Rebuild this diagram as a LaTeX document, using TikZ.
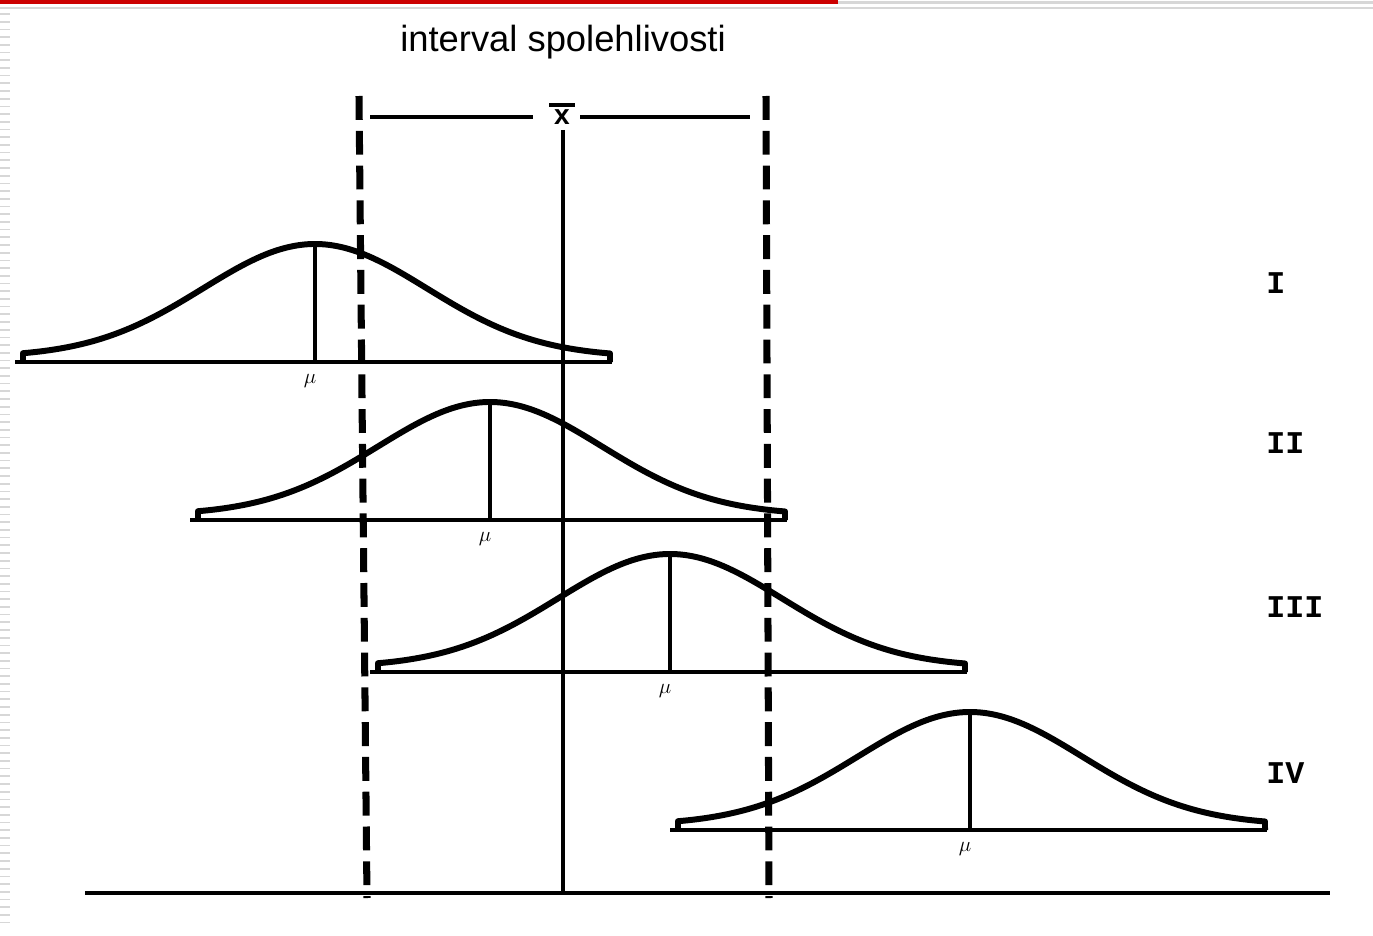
\documentclass[tikz,border=0pt]{standalone}
\usepackage{fontspec}
\setmainfont{Liberation Sans}
\newfontfamily\romfont{Liberation Mono}
\usepackage{tikz}
\usetikzlibrary{positioning,calc}
\definecolor{barred}{RGB}{204,0,0}
\definecolor{edge}{RGB}{215,215,215}
\tikzset{
  curve/.style={line width=3.4pt, line join=round},
  base/.style={line width=2.8pt},
  ci/.style={line width=4pt, dash pattern=on 13.6pt off 6.2pt},
  mu/.style={font=\fontsize{13}{13}\selectfont, inner sep=0pt},
  roman/.style={font=\fontsize{18}{18}\romfont\bfseries, anchor=west, inner sep=0pt},
  title/.style={font=\fontsize{20.7}{22}\selectfont, inner sep=0pt},
}
\begin{document}
\begin{tikzpicture}[x=0.02cm, y=-0.02cm]
  \useasboundingbox (0,0) rectangle (1373,936);
  % top bars and left edge
  \fill[barred] (0,0) rectangle (838,4.5);
  \fill[edge] (838,1) rectangle (1373,4);
  \draw[edge, line width=0.8pt] (0,8) -- (1373,8);
  \foreach \y in {14,21.7,...,930}
    \draw[edge, line width=1pt] (0,\y) -- (10,\y);

  \node[title] (head) at (563,42) {interval spolehlivosti};

  % axis, confidence interval, mean
  \coordinate (axisL) at (85,893);
  \coordinate (axisR) at (1330,893);
  \draw[base] (axisL) -- (axisR);
  \coordinate (ciLtop) at (359,96);
  \coordinate (ciLbot) at (367,898);
  \coordinate (ciRtop) at (766,96);
  \coordinate (ciRbot) at (769,898);
  \draw[ci] (ciLtop) -- (ciLbot);
  \draw[ci] (ciRtop) -- (ciRbot);
  \node[font=\fontsize{16}{16}\selectfont\bfseries, inner sep=0pt] (xbar) at (562,117) {x};
  \draw[line width=2.2pt] ($(xbar.north)+(-13,-4)$) -- ($(xbar.north)+(13,-4)$);
  \coordinate (gapL) at (533,117);
  \coordinate (gapR) at (580,117);
  \coordinate (mtop) at (563,130);
  \draw[base] (mtop) -- (mtop |- axisL);
  \draw[base] (370,117) -- (gapL);
  \draw[base] (gapR) -- (750,117);

  % four sampling distributions
  \foreach \px/\by/\nm/\ry in {315/362/I/283, 490/520/II/443, 670/672/III/607, 970/830/IV/773}{
    \draw[base] (\px-300,\by) -- (\px+297,\by);
    \draw[curve] (\px-292,\by) -- plot[domain=-292:295, samples=70, smooth]
      ({\px+\x}, {\by-5-113*exp(-0.5*(\x/112)^2)}) -- (\px+295,\by);
    \draw[base] (\px,\by) -- (\px,\by-117);
    \node[mu] (mu-\nm) at (\px-5,\by+19) {$\mu$};
    \node[roman] (lab-\nm) at (1266,\ry) {\nm};
  }
\end{tikzpicture}
\end{document}
